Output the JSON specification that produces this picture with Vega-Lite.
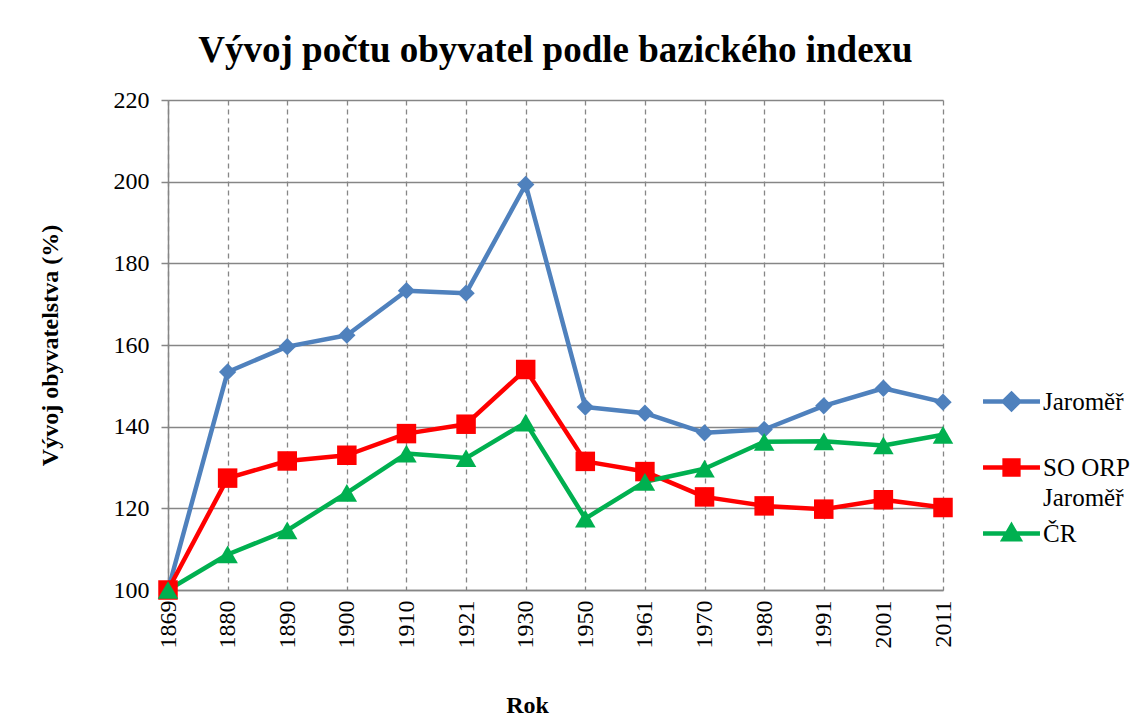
{
  "$schema": "https://vega.github.io/schema/vega-lite/v6.json",
  "autosize": "none",
  "width": 775,
  "height": 490,
  "padding": {"left": 168, "top": 100, "right": 203, "bottom": 127},
  "background": "white",
  "title": {
    "text": "Vývoj počtu obyvatel podle bazického indexu",
    "font": "Liberation Serif",
    "fontSize": 37,
    "fontWeight": "bold",
    "color": "black",
    "anchor": "middle",
    "offset": 18
  },
  "config": {
    "view": {"stroke": null},
    "font": "Liberation Serif"
  },
  "data": {
    "values": [
      {"year": "1869", "series": "Jaroměř", "value": 100},
      {"year": "1880", "series": "Jaroměř", "value": 153.4},
      {"year": "1890", "series": "Jaroměř", "value": 159.6},
      {"year": "1900", "series": "Jaroměř", "value": 162.4},
      {"year": "1910", "series": "Jaroměř", "value": 173.3},
      {"year": "1921", "series": "Jaroměř", "value": 172.7},
      {"year": "1930", "series": "Jaroměř", "value": 199.3},
      {"year": "1950", "series": "Jaroměř", "value": 144.8},
      {"year": "1961", "series": "Jaroměř", "value": 143.3},
      {"year": "1970", "series": "Jaroměř", "value": 138.5},
      {"year": "1980", "series": "Jaroměř", "value": 139.3},
      {"year": "1991", "series": "Jaroměř", "value": 145.1},
      {"year": "2001", "series": "Jaroměř", "value": 149.4},
      {"year": "2011", "series": "Jaroměř", "value": 146},
      {"year": "1869", "series": "SO ORP Jaroměř", "value": 100},
      {"year": "1880", "series": "SO ORP Jaroměř", "value": 127.4},
      {"year": "1890", "series": "SO ORP Jaroměř", "value": 131.6},
      {"year": "1900", "series": "SO ORP Jaroměř", "value": 133},
      {"year": "1910", "series": "SO ORP Jaroměř", "value": 138.3},
      {"year": "1921", "series": "SO ORP Jaroměř", "value": 140.6},
      {"year": "1930", "series": "SO ORP Jaroměř", "value": 154},
      {"year": "1950", "series": "SO ORP Jaroměř", "value": 131.5},
      {"year": "1961", "series": "SO ORP Jaroměř", "value": 129},
      {"year": "1970", "series": "SO ORP Jaroměř", "value": 122.8},
      {"year": "1980", "series": "SO ORP Jaroměř", "value": 120.6},
      {"year": "1991", "series": "SO ORP Jaroměř", "value": 119.8},
      {"year": "2001", "series": "SO ORP Jaroměř", "value": 122.1},
      {"year": "2011", "series": "SO ORP Jaroměř", "value": 120.2},
      {"year": "1869", "series": "ČR", "value": 100},
      {"year": "1880", "series": "ČR", "value": 108.7},
      {"year": "1890", "series": "ČR", "value": 114.6},
      {"year": "1900", "series": "ČR", "value": 123.8},
      {"year": "1910", "series": "ČR", "value": 133.4},
      {"year": "1921", "series": "ČR", "value": 132.3},
      {"year": "1930", "series": "ČR", "value": 141},
      {"year": "1950", "series": "ČR", "value": 117.5},
      {"year": "1961", "series": "ČR", "value": 126.5},
      {"year": "1970", "series": "ČR", "value": 129.7},
      {"year": "1980", "series": "ČR", "value": 136.3},
      {"year": "1991", "series": "ČR", "value": 136.4},
      {"year": "2001", "series": "ČR", "value": 135.4},
      {"year": "2011", "series": "ČR", "value": 138}
    ]
  },
  "encoding": {
    "x": {
      "field": "year",
      "type": "ordinal",
      "scale": {"type": "point", "padding": 0},
      "axis": {
        "title": "Rok",
        "titleFont": "Liberation Serif",
        "titleFontSize": 24,
        "titleFontWeight": "bold",
        "titleColor": "black",
        "titlePadding": 45,
        "titleX": 359,
        "labelAngle": -90,
        "labelFont": "Liberation Serif",
        "labelFontSize": 24,
        "labelColor": "black",
        "labelPadding": 10,
        "ticks": false,
        "domainColor": "#868686",
        "domainWidth": 1.5,
        "grid": true,
        "gridColor": "#868686",
        "gridDash": [5, 4],
        "gridWidth": 1.3,
        "gridOpacity": 1
      }
    },
    "y": {
      "field": "value",
      "type": "quantitative",
      "scale": {"domain": [100, 220], "nice": false, "zero": false},
      "axis": {
        "title": "Vývoj obyvatelstva (%)",
        "titleFont": "Liberation Serif",
        "titleFontSize": 24,
        "titleFontWeight": "bold",
        "titleColor": "black",
        "titlePadding": 51,
        "values": [100, 120, 140, 160, 180, 200, 220],
        "labelFont": "Liberation Serif",
        "labelFontSize": 24,
        "labelColor": "black",
        "labelPadding": 12,
        "tickSize": 7,
        "tickColor": "#868686",
        "tickWidth": 1.5,
        "domainColor": "#868686",
        "domainWidth": 1.5,
        "grid": true,
        "gridColor": "#868686",
        "gridWidth": 1.5,
        "gridOpacity": 1
      }
    },
    "color": {
      "field": "series",
      "type": "nominal",
      "scale": {
        "domain": ["Jaroměř", "SO ORP Jaroměř", "ČR"],
        "range": ["#4F81BD", "#FF0000", "#00B050"]
      },
      "legend": {
        "title": null,
        "orient": "none",
        "legendX": 847,
        "legendY": 289,
        "padding": 0,
        "rowPadding": 6,
        "symbolSize": 256,
        "symbolStrokeWidth": 4.5,
        "symbolOpacity": 1,
        "labelFont": "Liberation Serif",
        "labelFontSize": 25,
        "labelColor": "black",
        "labelOffset": 3,
        "labelLimit": 300,
        "labelExpr": "datum.label == 'SO ORP Jaroměř' ? ['SO ORP', 'Jaroměř'] : datum.label == 'Jaroměř' ? ['Jaroměř', ' '] : datum.label",
        "encode": {
          "symbols": {
            "update": {
              "shape": {"signal": "datum.value == 'Jaroměř' ? 'M-5.56,0H1.56M-2,-0.96L-1.04,0L-2,0.96L-2.96,0Z' : datum.value == 'ČR' ? 'M-5.56,0H1.56M-2,-0.93L-1.04,0.71H-2.96Z' : 'M-5.56,0H1.56M-2.86,-0.86H-1.14V0.86H-2.86Z'"},
              "fill": {"signal": "scale('color', datum.value)"},
              "stroke": {"signal": "scale('color', datum.value)"},
              "strokeWidth": {"value": 4.5},
              "size": {"value": 256},
              "opacity": {"value": 1}
            }
          },
          "labels": {
            "update": {
              "lineHeight": {"value": 30}
            }
          }
        }
      }
    }
  },
  "layer": [
    {
      "mark": {"type": "line", "strokeWidth": 4.5, "strokeJoin": "round"}
    },
    {
      "transform": [{"filter": "datum.series == 'Jaroměř'"}],
      "mark": {"type": "point", "filled": true, "opacity": 1, "shape": "diamond", "size": 300}
    },
    {
      "transform": [{"filter": "datum.series == 'SO ORP Jaroměř'"}],
      "mark": {"type": "point", "filled": true, "opacity": 1, "shape": "square", "size": 380}
    },
    {
      "transform": [{"filter": "datum.series == 'ČR'"}],
      "mark": {"type": "point", "filled": true, "opacity": 1, "shape": "triangle-up", "size": 420}
    }
  ]
}
